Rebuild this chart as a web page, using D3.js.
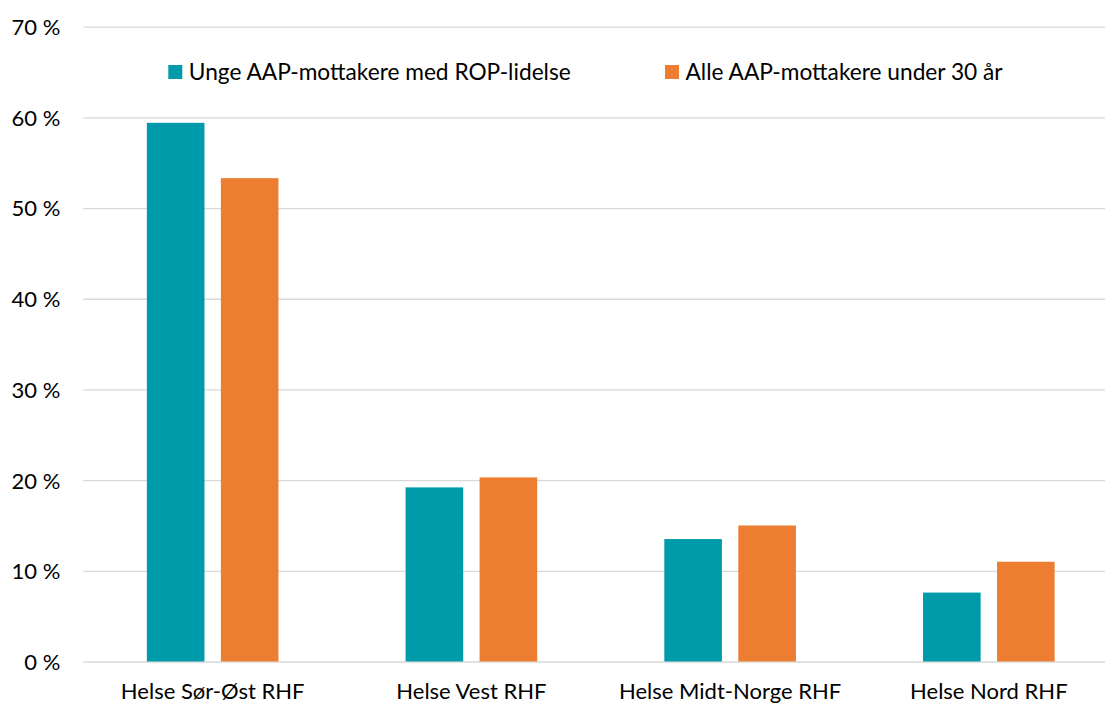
<!DOCTYPE html>
<html>
<head>
<meta charset="utf-8">
<script src="https://cdn.jsdelivr.net/npm/d3@7"></script>
<style>
  html, body { margin: 0; padding: 0; background: #fff; }
  svg { display: block; }
  text { font-family: Lato, "Liberation Sans", sans-serif; fill: #000; }
</style>
</head>
<body>
<svg id="chart" width="1105" height="704"></svg>
<script>
const categories = ["Helse Sør-Øst RHF", "Helse Vest RHF", "Helse Midt-Norge RHF", "Helse Nord RHF"];
const seriesNames = ["Unge AAP-mottakere med ROP-lidelse", "Alle AAP-mottakere under 30 år"];
const ropValues = [59.4, 19.2, 13.5, 7.6];
const allValues = [53.3, 20.3, 15.0, 11.0];
const yTicks = [0, 10, 20, 30, 40, 50, 60, 70];
const colors = ["#009BAA", "#ED7D31"];

const series = [ropValues, allValues];
const data = categories.map((c, i) => ({ cat: c, vals: series.map((s, j) => ({ key: seriesNames[j], v: s[i], j })) }));

const svg = d3.select("#chart");
const plotLeft = 83.3, plotRight = 1118.2, plotTop = 26.7, plotBottom = 661.5;

const x0 = d3.scaleBand().domain(categories).range([plotLeft, plotRight]).padding(0);
const groupW = 131.6;
const x1 = d3.scaleBand().domain(seriesNames)
  .range([(x0.bandwidth() - groupW) / 2, (x0.bandwidth() + groupW) / 2])
  .paddingInner(0.2216).paddingOuter(0);
const y = d3.scaleLinear().domain([0, 70]).range([plotBottom, plotTop]);

// gridlines
const yAxis = d3.axisLeft(y).tickValues(yTicks).tickSize(-(1105 - plotLeft)).tickFormat(d => d + " %").tickPadding(23);
const gy = svg.append("g").attr("transform", `translate(${plotLeft},0)`).call(yAxis);
gy.select(".domain").remove();
gy.selectAll(".tick line").attr("stroke", "#D9D9D9").attr("stroke-width", 1.3);
gy.selectAll(".tick text").style("font-size", "22px").attr("fill", "#000").attr("dy", "0.36em");

// bars
const groups = svg.append("g").selectAll("g").data(data).join("g")
  .attr("transform", d => `translate(${x0(d.cat)},0)`);
groups.selectAll("rect").data(d => d.vals).join("rect")
  .attr("x", d => x1(d.key))
  .attr("width", x1.bandwidth())
  .attr("y", d => y(d.v))
  .attr("height", d => y(0) - y(d.v))
  .attr("fill", d => colors[d.j]);

// x labels
const xAxis = d3.axisBottom(x0).tickSize(0).tickPadding(22);
const gx = svg.append("g").attr("transform", `translate(0,${plotBottom})`).call(xAxis);
gx.select(".domain").remove();
gx.selectAll(".tick text").style("font-size", "22px").attr("fill", "#000");

// legend
const legendX = [168.3, 665];
const leg = svg.append("g").selectAll("g").data(seriesNames).join("g")
  .attr("transform", (d, i) => `translate(${legendX[i]},65)`);
leg.append("rect").attr("width", 14).attr("height", 14).attr("fill", (d, i) => colors[i]);
leg.append("text").attr("x", 20.5).attr("y", 15).style("font-size", "22.7px").text(d => d);
</script>
</body>
</html>
